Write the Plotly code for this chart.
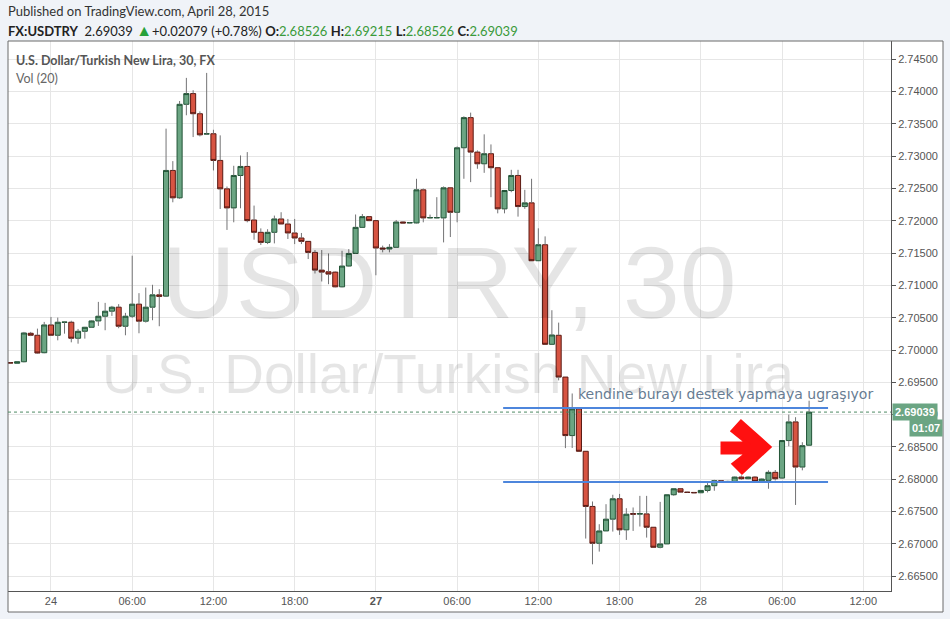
import plotly.graph_objects as go

# ---------------- data ----------------
bar_index = list(range(-6, 113))  # 30-minute bars, 0 = Apr 24 00:00

opens = [
    2.69803, 2.69795, 2.69818, 2.70259, 2.70228, 2.69958,
    2.70388, 2.70228, 2.70428, 2.70430, 2.70182, 2.70290, 2.70352, 2.70450, 2.70523, 2.70601,
    2.70663, 2.70368, 2.70523, 2.70710, 2.70446, 2.70663, 2.70854, 2.70834, 2.72780, 2.72356,
    2.73804, 2.73970, 2.73658, 2.73343, 2.73348, 2.72935, 2.72495, 2.72200, 2.72702, 2.72842,
    2.72013, 2.71822, 2.71666, 2.71822, 2.72029, 2.71951, 2.71812, 2.71734, 2.71682, 2.71511,
    2.71237, 2.71211, 2.71206, 2.70978, 2.71300, 2.71495, 2.71899, 2.72065, 2.72003, 2.71579,
    2.71564, 2.71590, 2.71982, 2.71967, 2.71967, 2.72480, 2.72045, 2.72045, 2.72045, 2.72511,
    2.72132, 2.73131, 2.73598, 2.73064, 2.72883, 2.73039, 2.72822, 2.72185, 2.72469, 2.72702,
    2.72221, 2.72278, 2.71382, 2.71630, 2.70088, 2.70228, 2.69581, 2.68675, 2.69089, 2.68432,
    2.67578, 2.67008, 2.67199, 2.67381, 2.67697, 2.67216, 2.67468, 2.67458, 2.67463, 2.67256,
    2.66946, 2.66998, 2.67759, 2.67852, 2.67800, 2.67795, 2.67790, 2.67826, 2.67899, 2.67977,
    2.67955, 2.67965, 2.68033, 2.68007, 2.68033, 2.67965, 2.67982, 2.68106, 2.68017, 2.68598,
    2.68887, 2.68188, 2.68526,
]
highs = [
    2.69808, 2.69822, 2.70280, 2.70280, 2.70331, 2.70435,
    2.70512, 2.70502, 2.70435, 2.70453, 2.70326, 2.70357, 2.70460, 2.70745, 2.70730, 2.70683,
    2.70710, 2.70575, 2.71460, 2.70880, 2.70967, 2.71010, 2.70942, 2.73427, 2.72924, 2.73855,
    2.74213, 2.74022, 2.73695, 2.74290, 2.73410, 2.73323, 2.72531, 2.72852, 2.73012, 2.73064,
    2.72236, 2.71883, 2.71870, 2.72081, 2.72133, 2.72029, 2.72029, 2.71812, 2.71682, 2.71548,
    2.71548, 2.71495, 2.71216, 2.71536, 2.71563, 2.72098, 2.72106, 2.72070, 2.72003, 2.71616,
    2.71640, 2.72013, 2.71990, 2.71980, 2.72651, 2.72500, 2.72096, 2.72366, 2.72532, 2.72511,
    2.73152, 2.73618, 2.73675, 2.73090, 2.73339, 2.73183, 2.72822, 2.72469, 2.72790, 2.72790,
    2.72480, 2.72651, 2.71884, 2.71759, 2.70616, 2.70424, 2.69581, 2.69327, 2.69115, 2.68432,
    2.67655, 2.67303, 2.67613, 2.67759, 2.67772, 2.67551, 2.67562, 2.67742, 2.67742, 2.67256,
    2.67649, 2.67759, 2.67852, 2.67852, 2.67805, 2.67800, 2.67830, 2.67940, 2.67990, 2.67985,
    2.67975, 2.68040, 2.68058, 2.68040, 2.68045, 2.68010, 2.68137, 2.68142, 2.68598, 2.69000,
    2.68960, 2.68572, 2.69215,
]
lows = [
    2.69798, 2.69790, 2.69810, 2.70215, 2.69943, 2.69950,
    2.70220, 2.70150, 2.70253, 2.70119, 2.70098, 2.70176, 2.70345, 2.70373, 2.70306, 2.70528,
    2.70337, 2.70228, 2.70497, 2.70259, 2.70425, 2.70461, 2.70368, 2.70820, 2.72287, 2.72340,
    2.73634, 2.73297, 2.73307, 2.73335, 2.72780, 2.72184, 2.71859, 2.71977, 2.72194, 2.71977,
    2.71708, 2.71626, 2.71640, 2.71651, 2.71951, 2.71719, 2.71640, 2.71640, 2.71408, 2.71185,
    2.71061, 2.71019, 2.70970, 2.70970, 2.71290, 2.71490, 2.71899, 2.71995, 2.71157, 2.71512,
    2.71512, 2.71580, 2.71960, 2.71962, 2.71960, 2.71977, 2.72040, 2.72040, 2.71666, 2.71749,
    2.71977, 2.72651, 2.72599, 2.72806, 2.72743, 2.72366, 2.72116, 2.72116, 2.72443, 2.72065,
    2.72185, 2.71382, 2.71382, 2.70088, 2.70088, 2.69530, 2.68481, 2.68483, 2.68432, 2.67081,
    2.66682, 2.66879, 2.67199, 2.67189, 2.67137, 2.67060, 2.67199, 2.67267, 2.67096, 2.66946,
    2.66930, 2.66998, 2.67744, 2.67795, 2.67790, 2.67785, 2.67785, 2.67795, 2.67821, 2.67950,
    2.67945, 2.67960, 2.67992, 2.68000, 2.67955, 2.67960, 2.67852, 2.67980, 2.68007, 2.68509,
    2.67601, 2.68137, 2.68526,
]
closes = [
    2.69800, 2.69818, 2.70264, 2.70228, 2.69953, 2.70388,
    2.70228, 2.70430, 2.70432, 2.70182, 2.70290, 2.70352, 2.70450, 2.70523, 2.70601, 2.70663,
    2.70368, 2.70523, 2.70710, 2.70446, 2.70663, 2.70854, 2.70830, 2.72780, 2.72356, 2.73804,
    2.73970, 2.73658, 2.73331, 2.73348, 2.72935, 2.72495, 2.72200, 2.72702, 2.72842, 2.72003,
    2.71822, 2.71666, 2.71822, 2.72029, 2.71951, 2.71812, 2.71734, 2.71682, 2.71511, 2.71237,
    2.71206, 2.71175, 2.70978, 2.71300, 2.71495, 2.71899, 2.72065, 2.72003, 2.71579, 2.71564,
    2.71590, 2.71982, 2.71967, 2.71972, 2.72480, 2.72045, 2.72050, 2.72050, 2.72511, 2.72132,
    2.73131, 2.73598, 2.73064, 2.72883, 2.73039, 2.72822, 2.72185, 2.72469, 2.72702, 2.72221,
    2.72278, 2.71382, 2.71630, 2.70088, 2.70233, 2.69581, 2.68675, 2.69089, 2.68432, 2.67578,
    2.67008, 2.67199, 2.67381, 2.67697, 2.67216, 2.67458, 2.67458, 2.67468, 2.67256, 2.66946,
    2.66998, 2.67759, 2.67852, 2.67800, 2.67795, 2.67790, 2.67826, 2.67899, 2.67977, 2.67955,
    2.67965, 2.68033, 2.68007, 2.68033, 2.67965, 2.68002, 2.68106, 2.68007, 2.68598, 2.68887,
    2.68188, 2.68519, 2.69039,
]

tick_positions = [0, 12, 24, 36, 48, 60, 72, 84, 96, 108, 120]
tick_labels = ["24", "06:00", "12:00", "18:00", "<b>27</b>", "06:00", "12:00", "18:00",
               "28", "06:00", "12:00"]

# user-drawn horizontal levels: (price, start bar, end bar)
level_prices = [2.69102, 2.67956]
level_start = [66.8, 66.8]
level_end = [114.8, 114.8]

# ---------------- layout geometry ----------------
W, H = 950, 619
L, R, T, B = 8, 891, 41, 591
x_range = [-6.35, 124.1]
y_range = [2.66269, 2.74784]


def xp(px):
    return (px - L) / (R - L)


def yp(py):
    return (B - py) / (B - T)


fig = go.Figure()

# wicks (drawn outside the bodies)
wx, wy = [], []
for i, o, h, l, c in zip(bar_index, opens, highs, lows, closes):
    top, bot = max(o, c), min(o, c)
    if h > top:
        wx += [i, i, None]
        wy += [top, h, None]
    if l < bot:
        wx += [i, i, None]
        wy += [l, bot, None]
fig.add_trace(go.Scatter(x=wx, y=wy, mode="lines",
                         line=dict(color="#737375", width=1),
                         hoverinfo="skip", showlegend=False))

body_hi = [max(o, c) for o, c in zip(opens, closes)]
body_lo = [min(o, c) for o, c in zip(opens, closes)]
fig.add_trace(go.Candlestick(
    x=bar_index, open=opens, high=body_hi, low=body_lo, close=closes,
    increasing=dict(fillcolor="#6ba583", line=dict(color="#225437", width=1)),
    decreasing=dict(fillcolor="#d75442", line=dict(color="#5b1a13", width=1)),
    whiskerwidth=0, showlegend=False,
))

shapes = []
# white frame behind chart + axes
shapes.append(dict(type="rect", xref="paper", yref="paper",
                   x0=xp(8), x1=xp(943), y0=yp(612), y1=yp(41),
                   fillcolor="white", line=dict(width=0), layer="below"))
shapes.append(dict(type="rect", xref="paper", yref="paper",
                   x0=xp(8), x1=xp(943), y0=yp(612), y1=yp(41),
                   fillcolor="rgba(0,0,0,0)", line=dict(color="#6a6a6a", width=1),
                   layer="above"))
# current price dotted line
shapes.append(dict(type="line", xref="paper", yref="y", x0=0, x1=1,
                   y0=closes[-1], y1=closes[-1],
                   line=dict(color="#4f8a64", width=1, dash="dot")))
# support / resistance lines
for p, a, b in zip(level_prices, level_start, level_end):
    shapes.append(dict(type="line", xref="x", yref="y", x0=a, x1=b, y0=p, y1=p,
                       line=dict(color="#4d86dc", width=2)))
# red arrow (decoration)
arrow_pts = [(722, 443), (747, 443), (732, 431), (741, 421), (770, 447),
             (742, 473), (733, 464), (747, 453), (722, 453)]
path = "M " + " L ".join(f"{xp(a):.5f},{yp(b):.5f}" for a, b in arrow_pts) + " Z"
shapes.append(dict(type="path", xref="paper", yref="paper", path=path,
                   fillcolor="#ff1010", line=dict(color="#ff1010", width=3)))

annotations = []
# watermark
annotations.append(dict(text="USDTRY, 30", x=xp(450), y=yp(283), xref="paper", yref="paper",
                        showarrow=False, xanchor="center", yanchor="middle",
                        font=dict(family="Liberation Sans, Arial", size=102,
                                  color="rgba(0,0,0,0.10)")))
annotations.append(dict(text="U.S. Dollar/Turkish New Lira", x=xp(448), y=yp(374),
                        xref="paper", yref="paper", showarrow=False,
                        xanchor="center", yanchor="middle",
                        font=dict(family="Liberation Sans, Arial", size=55,
                                  color="rgba(0,0,0,0.10)")))
# header
annotations.append(dict(text="Published on TradingView.com, April 28, 2015",
                        x=xp(6), y=yp(11), xref="paper", yref="paper", showarrow=False,
                        xanchor="left", yanchor="middle",
                        font=dict(family="Lato, Open Sans", size=13, color="#333333")))
g = "#3a9a3a"
hdr = ("<b>FX:USDTRY</b>  2.69039 <span style='color:#27a13b;font-size:16px'>▲</span>"
       "+0.02079 (+0.78%) "
       f"<b>O:</b><span style='color:{g}'>2.68526</span> "
       f"<b>H:</b><span style='color:{g}'>2.69215</span> "
       f"<b>L:</b><span style='color:{g}'>2.68526</span> "
       f"<b>C:</b><span style='color:{g}'>2.69039</span>")
annotations.append(dict(text=hdr, x=xp(6), y=yp(30), xref="paper", yref="paper",
                        showarrow=False, xanchor="left", yanchor="middle",
                        font=dict(family="Lato, Open Sans", size=13, color="#222222")))
annotations.append(dict(text="<b>U.S. Dollar/Turkish New Lira, 30, FX</b>",
                        x=xp(14), y=yp(60), xref="paper", yref="paper", showarrow=False,
                        xanchor="left", yanchor="middle",
                        font=dict(family="Lato, Open Sans", size=12.5, color="#555555")))
annotations.append(dict(text="Vol (20)", x=xp(14), y=yp(78), xref="paper", yref="paper",
                        showarrow=False, xanchor="left", yanchor="middle",
                        font=dict(family="Lato, Open Sans", size=12.5, color="#666666")))
# text note
annotations.append(dict(text="kendine burayı destek yapmaya ugraşıyor",
                        x=xp(725), y=yp(394), xref="paper", yref="paper", showarrow=False,
                        xanchor="center", yanchor="middle",
                        font=dict(family="DejaVu Sans", size=14, color="#677c92")))
# last price labels
annotations.append(dict(text="<b>2.69039</b>", x=xp(892), y=closes[-1], xref="paper",
                        yref="y", showarrow=False, xanchor="left", yanchor="middle",
                        bgcolor="#6ba583", borderpad=2,
                        font=dict(family="Liberation Sans, Arial", size=11, color="white")))
annotations.append(dict(text="<b>01:07</b>", x=xp(943), y=yp(428), xref="paper",
                        yref="paper", showarrow=False, xanchor="right", yanchor="middle",
                        bgcolor="#6ba583", borderpad=2,
                        font=dict(family="Liberation Sans, Arial", size=11, color="white")))

fig.update_layout(
    width=W, height=H,
    margin=dict(l=L, r=W - R, t=T, b=H - B, pad=0),
    paper_bgcolor="#f0f3f8", plot_bgcolor="white",
    showlegend=False, hovermode=False,
    boxgap=0.25, boxgroupgap=0,
    shapes=shapes, annotations=annotations,
    xaxis=dict(range=x_range, tickmode="array", tickvals=tick_positions, ticktext=tick_labels,
               showgrid=True, gridcolor="#e6e6e6", gridwidth=1, zeroline=False,
               showline=True, linecolor="#555555", linewidth=1, ticks="",
               tickfont=dict(family="Liberation Sans, Arial", size=11, color="#555555"),
               rangeslider=dict(visible=False), fixedrange=True),
    yaxis=dict(range=y_range, side="right", tick0=2.665, dtick=0.005, tickformat=".5f",
               showgrid=True, gridcolor="#e6e6e6", gridwidth=1, zeroline=False,
               showline=True, linecolor="#555555", linewidth=1,
               ticks="outside", ticklen=4, tickcolor="#555555",
               tickfont=dict(family="Liberation Sans, Arial", size=11, color="#555555"),
               fixedrange=True),
)

fig.write_html("out.html", config={"displayModeBar": False},
               post_script="document.body.style.margin='0';document.body.style.overflow='hidden';")
